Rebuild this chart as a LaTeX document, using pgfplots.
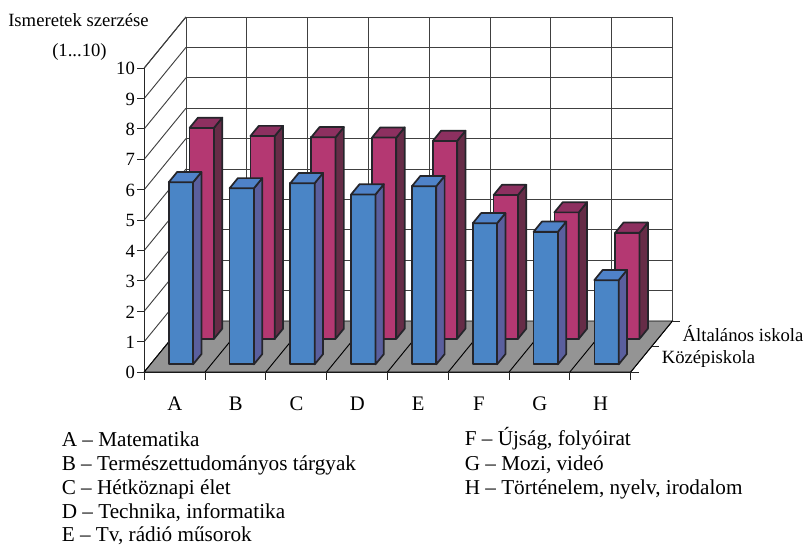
\documentclass[border=0pt]{standalone}
\usepackage{fontspec}
\setmainfont{Liberation Serif}
\usepackage{pgfplots}
\pgfplotsset{compat=1.18}

\definecolor{bluefront}{HTML}{4A85C6}
\definecolor{bluetop}{HTML}{4F82C8}
\definecolor{blueside}{HTML}{5A5F9E}
\definecolor{pinkfront}{HTML}{B43872}
\definecolor{pinktop}{HTML}{8D3060}
\definecolor{pinkside}{HTML}{662C47}
\definecolor{floorgray}{HTML}{949494}
\definecolor{barline}{HTML}{25252B}

% one 3D column: x0 x1 y0 y1 value front top side
\newcommand{\column}[8]{%
  \addplot3[fill=#6,draw=barline,line width=1.3pt,line join=round] coordinates {(#1,#3,0) (#2,#3,0) (#2,#3,#5) (#1,#3,#5)} --cycle;
  \addplot3[fill=#8,draw=barline,line width=1.3pt,line join=round] coordinates {(#2,#3,0) (#2,#4,0) (#2,#4,#5) (#2,#3,#5)} --cycle;
  \addplot3[fill=#7,draw=barline,line width=1.3pt,line join=round] coordinates {(#1,#3,#5) (#2,#3,#5) (#2,#4,#5) (#1,#4,#5)} --cycle;
}

\begin{document}
\begin{tikzpicture}[x=0.75pt,y=0.75pt]
\useasboundingbox (0,0) rectangle (805,545);
\begin{axis}[
    at={(108.2pt,129.75pt)}, anchor=origin,
    x={(45.6pt,0pt)}, y={(15.64pt,19.125pt)}, z={(0pt,22.8pt)},
    xmin=0, xmax=8, ymin=0, ymax=2, zmin=0, zmax=10,
    clip=false,
    axis line style={black!85,line width=0.7pt},
    xtick={0.5,1.5,2.5,3.5,4.5,5.5,6.5,7.5},
    xticklabels={A,B,C,D,E,F,G,H},
    minor xtick={0,1,2,3,4,5,6,7,8},
    ytick={0.5,1.5},
    yticklabels={Középiskola,Általános iskola},
    ztick={0,1,2,3,4,5,6,7,8,9,10},
    xminorgrids=true, zmajorgrids=true,
    grid style={black!75,line width=0.7pt},
    minor grid style={black!75,line width=0.7pt},
    tick align=outside,
    major tick length=0pt, minor tick length=0pt,
    /pgf/number format/assume math mode=true,
    ticklabel style={font=\fontsize{14}{16}\selectfont},
    xticklabel style={font=\fontsize{15.5}{16}\selectfont,anchor=base,yshift=-28.7pt,xshift=0.2pt},
    zticklabel style={anchor=east,xshift=-3.5pt,yshift=-0.5pt},
    yticklabel style={anchor=west,xshift=12pt},
]
% floor
\addplot3[fill=floorgray,draw=black,line width=0.7pt] coordinates {(0,0,0) (8,0,0) (8,2,0) (0,2,0)} --cycle;
\pgfplotsinvokeforeach{1,...,7}{
  \addplot3[black,line width=0.7pt] coordinates {(#1,0,0) (#1,2,0)};
}
% tick marks
\pgfplotsinvokeforeach{0,...,8}{
  \addplot3[black!85,line width=0.7pt] coordinates {(#1,0,0) (#1,0,-0.25)};
}
\pgfplotsinvokeforeach{0,...,10}{
  \addplot3[black!85,line width=0.7pt] coordinates {(0,0,#1) (-0.125,0,#1)};
}
\pgfplotsinvokeforeach{0,1,2}{
  \addplot3[black!85,line width=0.7pt] coordinates {(8,#1,0) (8.13,#1,0)};
}
% Általános iskola
\column{0.3}{0.7}{1.3}{1.7}{6.94}{pinkfront}{pinktop}{pinkside}
\column{1.3}{1.7}{1.3}{1.7}{6.67}{pinkfront}{pinktop}{pinkside}
\column{2.3}{2.7}{1.3}{1.7}{6.63}{pinkfront}{pinktop}{pinkside}
\column{3.3}{3.7}{1.3}{1.7}{6.62}{pinkfront}{pinktop}{pinkside}
\column{4.3}{4.7}{1.3}{1.7}{6.51}{pinkfront}{pinktop}{pinkside}
\column{5.3}{5.7}{1.3}{1.7}{4.73}{pinkfront}{pinktop}{pinkside}
\column{6.3}{6.7}{1.3}{1.7}{4.16}{pinkfront}{pinktop}{pinkside}
\column{7.3}{7.7}{1.3}{1.7}{3.49}{pinkfront}{pinktop}{pinkside}
% Középiskola
\column{0.3}{0.7}{0.3}{0.7}{5.99}{bluefront}{bluetop}{blueside}
\column{1.3}{1.7}{0.3}{0.7}{5.79}{bluefront}{bluetop}{blueside}
\column{2.3}{2.7}{0.3}{0.7}{5.96}{bluefront}{bluetop}{blueside}
\column{3.3}{3.7}{0.3}{0.7}{5.59}{bluefront}{bluetop}{blueside}
\column{4.3}{4.7}{0.3}{0.7}{5.86}{bluefront}{bluetop}{blueside}
\column{5.3}{5.7}{0.3}{0.7}{4.64}{bluefront}{bluetop}{blueside}
\column{6.3}{6.7}{0.3}{0.7}{4.36}{bluefront}{bluetop}{blueside}
\column{7.3}{7.7}{0.3}{0.7}{2.77}{bluefront}{bluetop}{blueside}
\end{axis}
\begin{scope}[every node/.style={anchor=base west,inner sep=0pt}]
\begin{scope}[every node/.append style={font=\fontsize{14}{16}\selectfont}]
\node at (8,518.3) {Ismeretek szerzése};
\node at (52,488.3) {(1...10)};
\end{scope}
\begin{scope}[every node/.append style={font=\fontsize{15.9}{18}\selectfont}]
\node at (61.5,98) {A – Matematika};
\node at (61.5,74) {B – Természettudományos tárgyak};
\node at (61.5,50) {C – Hétköznapi élet};
\node at (61.5,26.7) {D – Technika, informatika};
\node at (61.5,3.5) {E – Tv, rádió műsorok};
\node at (464.5,99) {F – Újság, folyóirat};
\node at (464.5,74) {G – Mozi, videó};
\node at (464.5,50.7) {H – Történelem, nyelv, irodalom};
\end{scope}
\end{scope}
\end{tikzpicture}
\end{document}
